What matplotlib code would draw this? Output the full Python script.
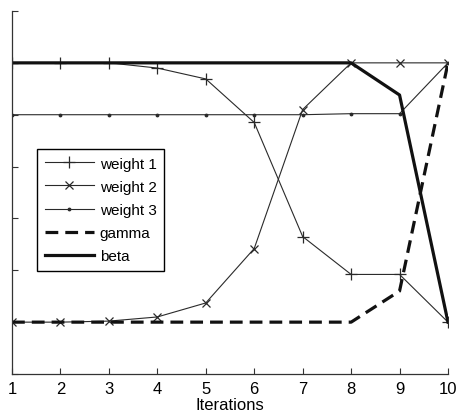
import matplotlib
matplotlib.use("Agg")
import matplotlib.pyplot as plt

iterations = [1, 2, 3, 4, 5, 6, 7, 8, 9, 10]
weight1 = [6.0, 6.0, 6.0, 5.9, 5.69, 4.85, 2.65, 1.92, 1.92, 1.0]
weight2 = [1.0, 1.0, 1.02, 1.1, 1.37, 2.42, 5.1, 6.0, 6.0, 6.0]
weight3 = [5.0, 5.0, 5.0, 5.0, 5.0, 5.0, 5.0, 5.02, 5.02, 6.0]
gamma = [1.0, 1.0, 1.0, 1.0, 1.0, 1.0, 1.0, 1.0, 1.6, 6.0]
beta = [6.0, 6.0, 6.0, 6.0, 6.0, 6.0, 6.0, 6.0, 5.38, 1.0]
yticks = [0, 1, 2, 3, 4, 5, 6, 7]

plt.rcParams['font.family'] = ['Liberation Sans', 'DejaVu Sans']

fig = plt.figure(figsize=(4.57, 4.14), dpi=100)
ax = fig.add_axes([12/457, 39/414, 436/457, 363/414])

thin = '#2a2a2a'
ax.plot(iterations, weight1, color=thin, lw=0.8, marker='+', ms=8, mew=0.9, label='weight 1')
ax.plot(iterations, weight2, color=thin, lw=0.8, marker='x', ms=6, mew=0.9, label='weight 2')
ax.plot(iterations, weight3, color=thin, lw=0.8, marker='.', ms=3.5, label='weight 3')
ax.plot(iterations, gamma, color='#111111', lw=2.3, ls=(0, (4, 2.2)), label='gamma')
ax.plot(iterations, beta, color='#111111', lw=2.3, label='beta')

ax.set_xlim(1, 10)
ax.set_ylim(0, 7)
ax.set_xticks(iterations)
ax.set_yticks(yticks)
ax.set_yticklabels([])
ax.tick_params(direction='in', length=4, width=0.8, color='#333333', labelsize=12, pad=5)
for s in ['top', 'right']:
    ax.spines[s].set_visible(False)
for s in ['left', 'bottom']:
    ax.spines[s].set_color('#333333')
    ax.spines[s].set_linewidth(0.9)
ax.set_xlabel('Iterations', fontsize=12, labelpad=1)

leg = ax.legend(loc='upper left', bbox_to_anchor=(25/436, 225/363), fontsize=11,
                frameon=True, fancybox=False, framealpha=1, edgecolor='black',
                handlelength=3.2, handletextpad=0.4, borderpad=0.5, labelspacing=0.6,
                borderaxespad=0)
leg.get_frame().set_linewidth(1.0)

fig.savefig('out.png', dpi=100)
